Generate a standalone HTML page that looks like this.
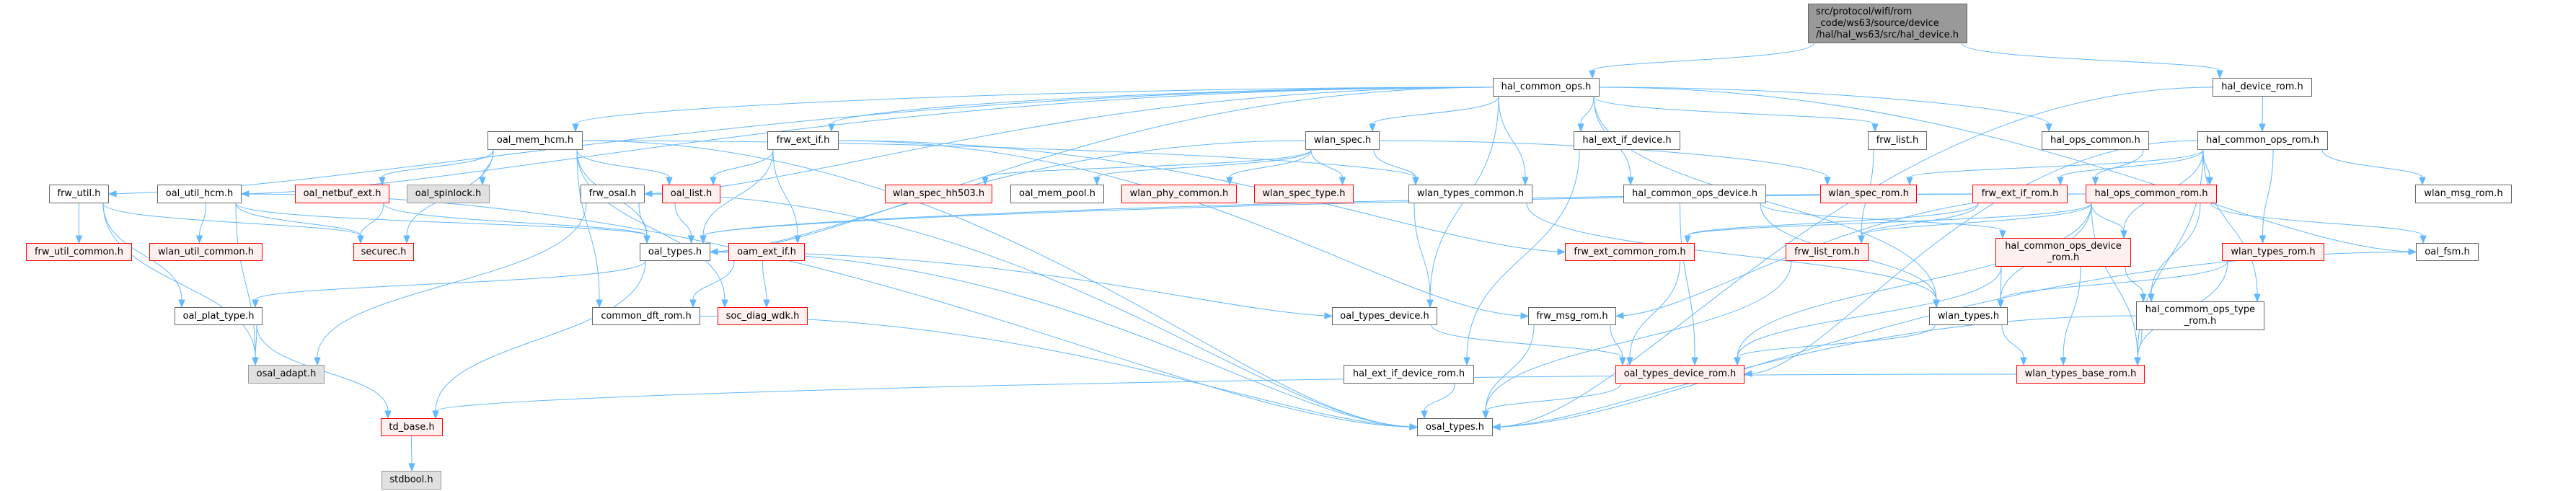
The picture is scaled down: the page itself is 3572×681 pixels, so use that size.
<!DOCTYPE html>
<html><head><meta charset="utf-8">
<style>
html,body{margin:0;padding:0;background:#fff;}
body{width:3572px;height:681px;position:relative;overflow:hidden;font-family:"DejaVu Sans","Liberation Sans",sans-serif;}
.n{position:absolute;box-sizing:border-box;border:1px solid #666;background:#fff;font-size:13px;color:#000;display:flex;align-items:center;justify-content:center;text-align:center;line-height:16px;white-space:nowrap;}
.r{border-color:#ff0000;background:#fff0f0;}
.g{border-color:#999;background:#e0e0e0;}
.root{background:#999;border-color:#666;justify-content:flex-start;text-align:left;padding-left:10px;}
svg{position:absolute;left:0;top:0;}
</style></head><body>
<svg id="s" width="3572" height="681"></svg>
<div id="nodes"></div>
<script>
var R=[0,[108,134],[182,208],[256,282],[337,362],[426,451],[506,532],[580,605],[653,679]];
var N={
root:[2507,2728,5,60,'root','src/protocol/wifi/rom<br>_code/ws63/source/device<br>/hal/hal_ws63/src/hal_device.h'],
hco:[2070,2218,1,'','hal_common_ops.h'],
hdr:[3068,3206,1,'','hal_device_rom.h'],
omh:[676,808,2,'','oal_mem_hcm.h'],
fei:[1064,1163,2,'','frw_ext_if.h'],
ws:[1810,1913,2,'','wlan_spec.h'],
hed:[2182,2330,2,'','hal_ext_if_device.h'],
fl:[2590,2672,2,'','frw_list.h'],
hoc:[2831,2980,2,'','hal_ops_common.h'],
hcor:[3047,3228,2,'','hal_common_ops_rom.h'],
fu:[68,151,3,'','frw_util.h'],
ouh:[218,335,3,'','oal_util_hcm.h'],
one:[409,540,3,'r','oal_netbuf_ext.h'],
osl:[564,679,3,'g','oal_spinlock.h'],
fo:[805,894,3,'','frw_osal.h'],
ol:[918,999,3,'r','oal_list.h'],
wsh:[1227,1376,3,'r','wlan_spec_hh503.h'],
omp:[1401,1531,3,'','oal_mem_pool.h'],
wpc:[1555,1715,3,'r','wlan_phy_common.h'],
wst:[1739,1877,3,'r','wlan_spec_type.h'],
wtc:[1953,2125,3,'','wlan_types_common.h'],
hcod:[2251,2449,3,'','hal_common_ops_device.h'],
wsr:[2524,2658,3,'r','wlan_spec_rom.h'],
feir:[2735,2867,3,'r','frw_ext_if_rom.h'],
hocr:[2892,3074,3,'r','hal_ops_common_rom.h'],
wmr:[3349,3483,3,'','wlan_msg_rom.h'],
fuc:[36,183,4,'r','frw_util_common.h'],
wuc:[207,364,4,'r','wlan_util_common.h'],
sec:[490,574,4,'r','securec.h'],
ot:[887,985,4,'','oal_types.h'],
oei:[1010,1116,4,'r','oam_ext_if.h'],
fecr:[2170,2350,4,'r','frw_ext_common_rom.h'],
flr:[2476,2591,4,'r','frw_list_rom.h'],
hcodr:[2767,2955,330,370,'r','hal_common_ops_device<br>_rom.h'],
wtr:[3081,3223,4,'r','wlan_types_rom.h'],
fsm:[3350,3437,4,'','oal_fsm.h'],
opt:[242,364,5,'','oal_plat_type.h'],
cdr:[821,971,5,'','common_dft_rom.h'],
sdw:[995,1120,5,'r','soc_diag_wdk.h'],
otd:[1847,1993,5,'','oal_types_device.h'],
fmr:[2119,2241,5,'','frw_msg_rom.h'],
wt:[2675,2784,5,'','wlan_types.h'],
hcotr:[2962,3140,418,458,'','hal_commom_ops_type<br>_rom.h'],
oa:[344,450,6,'g','osal_adapt.h'],
hedr:[1863,2044,6,'','hal_ext_if_device_rom.h'],
otdr:[2240,2419,6,'r','oal_types_device_rom.h'],
wtbr:[2796,2974,6,'r','wlan_types_base_rom.h'],
td:[528,614,7,'r','td_base.h'],
ost:[1965,2070,7,'','osal_types.h'],
sb:[529,612,8,'g','stdbool.h']
};
var B={};var h='';
for(var k in N){var a=N[k],x0=a[0],x1=a[1],y0,y1,c,t;
 if(a.length==6){y0=a[2];y1=a[3];c=a[4];t=a[5];}else{y0=R[a[2]][0];y1=R[a[2]][1];c=a[3];t=a[4];}
 B[k]=[x0,x1,y0,y1];
 h+='<div class="n '+c+'" style="left:'+x0+'px;top:'+y0+'px;width:'+(x1-x0)+'px;height:'+(y1-y0)+'px">'+t+'</div>';}
document.getElementById('nodes').innerHTML=h;
var E='root>hco root>hdr hco>fu hco>ouh hco>omh hco>fei hco>fo hco>ot hco>ws hco>wtc hco>hed hco>hcod hco>fl hco>hoc hco>fsm hco>wt hco>otd '+
'hdr>hcor hdr>ost hoc>hocr hcor>feir hcor>hocr hcor>hcodr hcor>wtr hcor>wmr hcor>hcotr hcor>wtbr hcor>otdr hcor>wsr '+
'hocr>hcodr hocr>wt hocr>wtbr hocr>hcotr hocr>fsm hocr>fecr hocr>flr hocr>fmr hocr>otdr hocr>ot '+
'hcodr>wt hcodr>hcotr hcodr>wtbr hcodr>otdr wtr>wt wtr>wtbr hcotr>wtbr hcotr>ost fsm>ost wt>wtbr wt>otdr wtbr>td '+
'feir>fecr feir>flr feir>ot fl>flr flr>ost hcod>otdr hcod>wt hcod>hcodr hed>hedr hedr>ost fecr>otdr otdr>ost fmr>otdr fmr>ost otd>otdr '+
'wtc>otd wtc>wt ws>wsh ws>omp ws>wpc ws>wst ws>wtc ws>wsr ws>ot fei>ol fei>ot fei>oei fei>fmr fei>fecr oei>cdr oei>sdw ol>ot '+
'ot>opt ot>td ot>ost ot>otd cdr>ost fo>oa fo>ot fo>ost omh>one omh>osl omh>ol omh>sec omh>ot omh>cdr omh>ost omh>wtc omh>sdw '+
'one>sec one>ot ouh>wuc ouh>sec ouh>oa ouh>ost ouh>ot fu>fuc fu>sec fu>opt fu>oa opt>oa opt>td td>sb';
var s='';var col='#63b8ff';
E.split(' ').forEach(function(e){var p=e.split('>'),a=B[p[0]],b=B[p[1]];if(!a||!b)return;
 var ax=(a[0]+a[1])/2,bx=(b[0]+b[1])/2,sx,sy,ex,ey,c1x,c1y,c2x,c2y;
 if(b[2]>a[3]+5){ // downward
  sx=Math.max(a[0]+8,Math.min(a[1]-8,bx));sy=a[3];ex=Math.max(b[0]+10,Math.min(b[1]-10,ax));ey=b[2];
  if(Math.abs(ex-sx)>600){ // long: side exit
   if(bx<ax){sx=a[0];}else{sx=a[1];}sy=(a[2]+a[3])/2;
   if(b[2]-a[3]>60){ex=bx<ax?b[1]:b[0];ey=(b[2]+b[3])/2;c1x=sx+(ex-sx)*0.5;c1y=sy;c2x=ex+(sx-ex)*0.2;c2y=ey-10;}
   else{c1x=sx+(ex-sx)*0.5;c1y=sy;c2x=ex;c2y=ey-30;}
  }else{var d=(ey-sy)*0.5;c1x=sx;c1y=sy+d;c2x=ex;c2y=ey-d;}
 }else{ // same row or upward
  var right=bx>ax;sx=right?a[1]:a[0];sy=(a[2]+a[3])/2;ex=right?b[0]:b[1];ey=(b[2]+b[3])/2;
  c1x=(sx+ex)/2;c1y=sy;c2x=(sx+ex)/2;c2y=ey;}
 var dx=ex-c2x,dy=ey-c2y,L=Math.sqrt(dx*dx+dy*dy)||1;dx/=L;dy/=L;
 var tx=ex-dx*10,ty=ey-dy*10;
 s+='<path d="M'+sx+' '+sy+' C'+c1x+' '+c1y+' '+c2x+' '+c2y+' '+tx+' '+ty+'" fill="none" stroke="'+col+'" stroke-width="1"/>';
 var px=-dy*4,py=dx*4;
 s+='<polygon points="'+ex+','+ey+' '+(tx+px)+','+(ty+py)+' '+(tx-px)+','+(ty-py)+'" fill="'+col+'" stroke="'+col+'"/>';
});
document.getElementById('s').innerHTML=s;
</script>
</body></html>
